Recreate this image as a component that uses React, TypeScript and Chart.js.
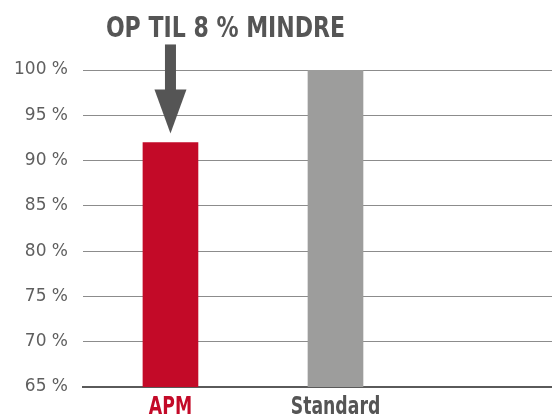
import React, { useEffect, useRef } from "react";
import { Chart, registerables } from "chart.js";

Chart.register(...registerables);

const categories = ["APM", "Standard"];
const values = [92, 100];
const barColors = ["#c30a28", "#9d9d9c"];
const labelColors = ["#c30a28", "#555555"];
const yTicks = [65, 70, 75, 80, 85, 90, 95, 100];
const titleText = "OP TIL 8 % MINDRE";

const condensed = "'DejaVu Sans Condensed', 'Liberation Sans Narrow', sans-serif";

const overlayPlugin = {
  id: "overlay",
  afterDatasetsDraw(chart: any) {
    const ctx = chart.ctx;
    const meta = chart.getDatasetMeta(0);
    const bar = meta.data[0];
    if (!bar) return;
    const x = bar.x;
    const top = bar.y;
    ctx.save();
    ctx.fillStyle = "#555555";
    // shaft
    ctx.fillRect(x - 5.5, top - 98, 11, 46);
    // head
    ctx.beginPath();
    ctx.moveTo(x - 16, top - 53);
    ctx.lineTo(x + 16, top - 53);
    ctx.lineTo(x, top - 9);
    ctx.closePath();
    ctx.fill();
    // title
    ctx.font = "bold 28px " + condensed;
    ctx.textAlign = "center";
    ctx.textBaseline = "alphabetic";
    ctx.save();
    ctx.translate(x + 55, 37);
    ctx.scale(0.875, 1);
    ctx.fillText(titleText, 0, 0);
    ctx.restore();
    // category labels
    const xs = chart.scales.x;
    const bottom = chart.chartArea.bottom;
    ctx.font = "bold 24px " + condensed;
    categories.forEach((c, i) => {
      ctx.save();
      ctx.fillStyle = labelColors[i];
      ctx.translate(xs.getPixelForValue(i), bottom + 27);
      ctx.scale(0.8, 1);
      ctx.fillText(c, 0, 0);
      ctx.restore();
    });
    ctx.restore();
  },
};

export default function App() {
  const ref = useRef<HTMLCanvasElement | null>(null);
  useEffect(() => {
    if (!ref.current) return;
    const chart = new Chart(ref.current, {
      type: "bar",
      data: {
        datasets: [
          {
            data: values.map((v, i) => ({ x: i, y: v })),
            backgroundColor: barColors,
            barThickness: 55,
          },
        ],
      },
      options: {
        animation: false,
        responsive: false,
        layout: { padding: { top: 70, right: 0, left: -1, bottom: 21 } },
        plugins: { legend: { display: false }, tooltip: { enabled: false } },
        scales: {
          x: {
            type: "linear",
            min: -0.53,
            max: 2.312,
            offset: false,
            grid: { display: false },
            border: { display: true, color: "#5a5a5a", width: 2 },
            afterBuildTicks(axis: any) {
              axis.ticks = categories.map((_, i) => ({ value: i }));
            },
            ticks: { display: false },
          },
          y: {
            min: 65,
            max: 100,
            afterBuildTicks(axis: any) {
              axis.ticks = yTicks.map((v) => ({ value: v }));
            },
            grid: { color: "#8c8c8c", lineWidth: 1, drawTicks: false },
            border: { display: false },
            ticks: {
              padding: 15,
              color: "#5f5f5f",
              font: { family: "'DejaVu Sans', sans-serif", size: 17 },
              callback: (v: any) => `${v} %`,
            },
          },
        },
      },
      plugins: [overlayPlugin],
    });
    return () => chart.destroy();
  }, []);
  return (
    <div style={{ position: "fixed", left: 0, top: 0, width: 552, height: 416, background: "#fff" }}>
      <canvas ref={ref} width={552} height={416} style={{ width: 552, height: 416 }} />
    </div>
  );
}
